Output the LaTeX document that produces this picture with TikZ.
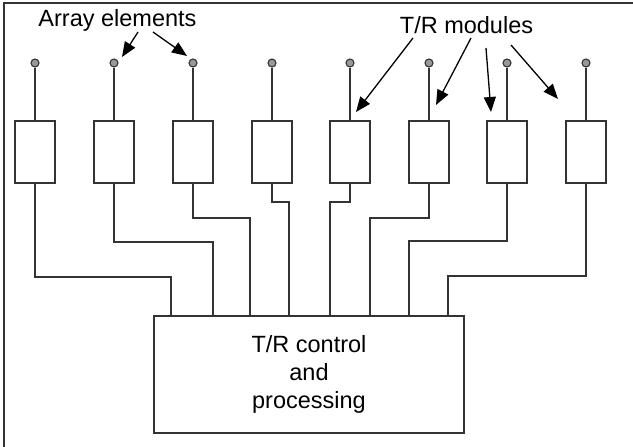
\documentclass[tikz,border=0pt]{standalone}
\usepackage{fontspec}
\setmainfont{Liberation Sans}
\usetikzlibrary{calc,positioning,arrows.meta}
\definecolor{inkgray}{HTML}{333333}
\tikzstyle{module}  = [rectangle, draw=inkgray, line width=1.4pt, fill=white, minimum width=40pt, minimum height=62pt, inner sep=0pt]
\tikzstyle{elem}    = [circle, draw=inkgray, line width=1.1pt, fill=gray!80, minimum size=8pt, inner sep=0pt]
\tikzstyle{ctrl}    = [rectangle, draw=inkgray, line width=1.4pt, minimum width=310pt, minimum height=117pt, align=center, font=\fontsize{23.5}{28}\selectfont]
\tikzstyle{wire}    = [draw=inkgray, line width=1.4pt]
\tikzstyle{pointer} = [line width=1.3pt, draw=black, -{Triangle[length=15pt,width=12pt]}]

\begin{document}
\begin{tikzpicture}[x=1pt,y=-1pt]
	\useasboundingbox (0,0) rectangle (633,447);
	% frame
	\draw[draw=inkgray, line width=1.8pt] (4,447) -- (4,3) -- (633,3);

	% control unit
	\node[ctrl] (ctrl) at (309,374.5) {T/R control\\and\\processing};

	% elements and modules
	\foreach \i/\x/\bend/\entry in {1/35/277/171, 2/114/242/213, 3/193/218/250, 4/272/202/289,
	                                5/350/202/330, 6/429/218/370, 7/507/241/409, 8/586/276/448} {
		\node[module] (mod\i) at (\x,152) {};
		\node[elem] (el\i) at (\x,63) {};
		\draw[wire] (el\i) -- (mod\i.north);
		\coordinate (bend\i) at (\x,\bend);
		\coordinate (entry\i) at (\entry,\bend);
		\draw[wire] (mod\i.south) -- (bend\i) -- (entry\i) -- (entry\i |- ctrl.north);
	}

	% labels
	\node[font=\fontsize{23.5}{28}\selectfont, anchor=base] (arrlbl) at (117.5,27) {Array elements};
	\node[font=\fontsize{23.5}{28}\selectfont, anchor=base] (trlbl) at (466.5,33) {T/R modules};

	\coordinate (a1) at (138,32);
	\coordinate (a2) at (153,32);
	\coordinate (t1) at (413,38);
	\coordinate (t2) at (471,38);
	\coordinate (t3) at (486,48);
	\coordinate (t4) at (511,45);
	\draw[pointer] (a1) -- (122,57);
	\draw[pointer] (a2) -- (187,56);
	\draw[pointer] (t1) -- (356,112);
	\draw[pointer] (t2) -- (436,105);
	\draw[pointer] (t3) -- (491,112);
	\draw[pointer] (t4) -- (558,99);
\end{tikzpicture}
\end{document}
